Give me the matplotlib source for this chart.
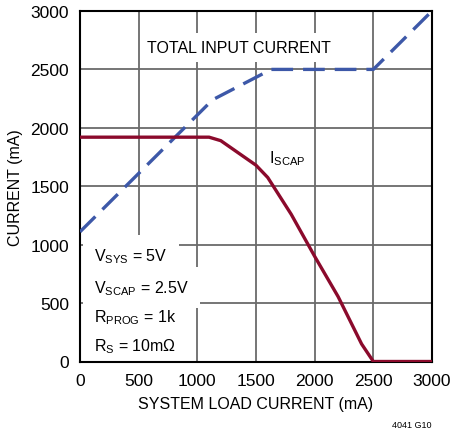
import matplotlib
matplotlib.use("Agg")
import matplotlib.pyplot as plt

plt.rcParams['font.family'] = ['Liberation Sans', 'DejaVu Sans']

# Data
total_x = [0, 1130, 1630, 2500, 3000]
total_y = [1110, 2240, 2500, 2500, 3000]

iscap_x = [0, 1100, 1200, 1500, 1600, 1800, 2000, 2200, 2400, 2500, 3000]
iscap_y = [1920, 1920, 1890, 1680, 1575, 1260, 900, 555, 150, 0, 0]

xticks = [0, 500, 1000, 1500, 2000, 2500, 3000]
yticks = [0, 500, 1000, 1500, 2000, 2500, 3000]

cond_lines = [r'V$_{\mathregular{SYS}}$ = 5V',
              r'V$_{\mathregular{SCAP}}$ = 2.5V',
              r'R$_{\mathregular{PROG}}$ = 1k',
              r'R$_{\mathregular{S}}$ = 10m$\mathregular{\Omega}$']
cond_y = [863, 593, 347, 99]

fig = plt.figure(figsize=(4.52, 4.35), dpi=100)
ax = fig.add_axes([80/452, 1 - 362.5/435, 352/452, 350.5/435])

ax.set_xlim(0, 3000)
ax.set_ylim(0, 3000)
ax.set_xticks(xticks)
ax.set_yticks(yticks)
ax.set_axisbelow(True)
ax.grid(True, color='#6a6a6a', linewidth=1.3)
ax.tick_params(length=0, labelsize=12.5, pad=8)
for s in ax.spines.values():
    s.set_color('black')
    s.set_linewidth(1.5)

ax.plot(total_x, total_y, color='#3d58a8', linewidth=2.4,
        dashes=(6.5, 3.0), zorder=3)
ax.plot(iscap_x, iscap_y, color='#8b0a2c', linewidth=2.4, zorder=3)

ax.text(575, 2647, 'TOTAL INPUT CURRENT', fontsize=11.5, va='baseline',
        ha='left', zorder=1.5,
        bbox=dict(facecolor='white', edgecolor='none', boxstyle='square,pad=0.45'))
ax.text(1609, 1704, r'I$_{\mathregular{SCAP}}$', fontsize=11.5, va='baseline',
        ha='left', zorder=1.5)

for t, yv in zip(cond_lines, cond_y):
    ax.text(121, yv, t, fontsize=11.5, va='baseline', ha='left', zorder=1.5,
            bbox=dict(facecolor='white', edgecolor='none', boxstyle='square,pad=0.7'))

ax.set_xlabel('SYSTEM LOAD CURRENT (mA)', fontsize=11.5, labelpad=6)
ax.set_ylabel('CURRENT (mA)', fontsize=11.5, labelpad=5)

fig.text(432/452, 1 - 426/435, '4041 G10', fontsize=6.5, ha='right', va='center')

fig.savefig('out.png', dpi=100)
